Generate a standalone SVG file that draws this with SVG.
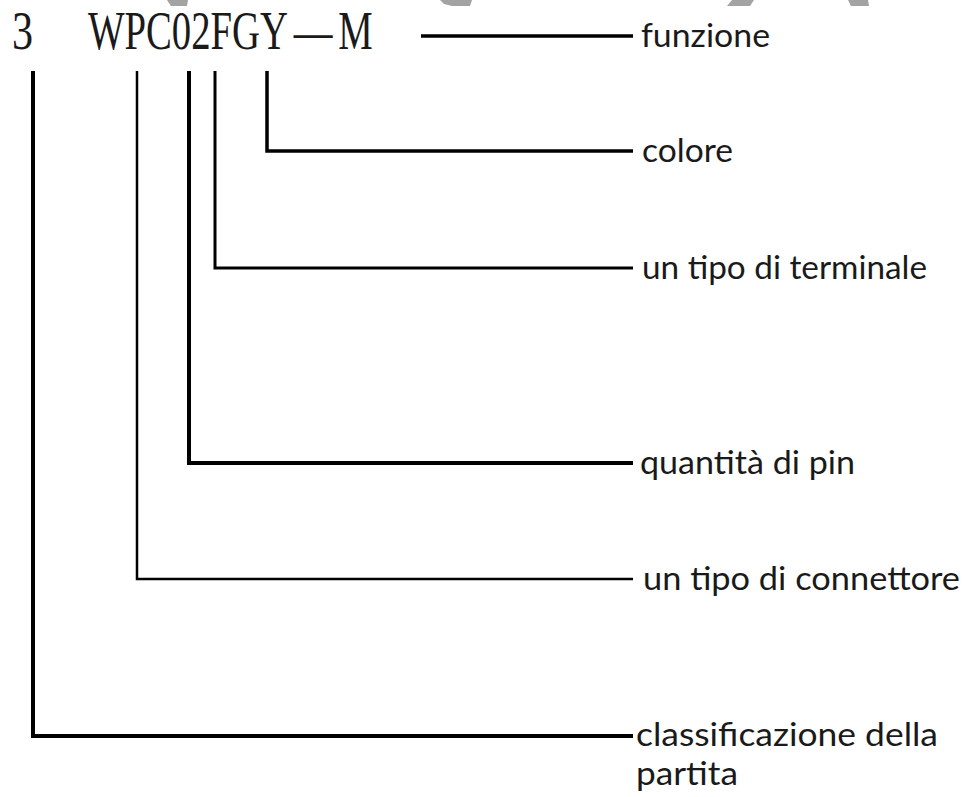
<svg xmlns="http://www.w3.org/2000/svg" width="962" height="797" viewBox="0 0 962 797">
  <style>
    .code { font-family: "Liberation Serif", "DejaVu Serif", serif; font-size: 54px; fill: #1a1a1a; }
    .lbl { font-family: Lato, "Open Sans", "Liberation Sans", sans-serif; font-size: 32px; fill: #1a1a1a; }
    .wire { fill: none; stroke: #000; stroke-linejoin: miter; stroke-linecap: butt; }
    .wm { fill: #a3a3a3; }
  </style>
  <rect width="962" height="797" fill="#ffffff"/>
  <g id="watermark">
    <polygon class="wm" points="167,0 188,0 187,6 171,6"/>
    <polygon class="wm" points="440,0 472,0 470,6 452,6 444,4"/>
    <polygon class="wm" points="732,0 754,0 750,6 727,6"/>
    <polygon class="wm" points="848,0 868,0 869,6 851,6"/>
  </g>
  <g id="code">
    <text class="code" transform="translate(12,49) scale(0.78,1)">3</text>
    <text class="code" transform="translate(88,49) scale(0.717,1)">WPC02FGY<tspan dx="8">—</tspan><tspan dx="8">M</tspan></text>
  </g>
  <g id="connectors">
    <path class="wire" d="M421,36 H633" stroke-width="3.5"/>
    <path class="wire" d="M267,71 V151 H633" stroke-width="3.5"/>
    <path class="wire" d="M215,71 V268 H633" stroke-width="3"/>
    <path class="wire" d="M189,71 V463 H633" stroke-width="4"/>
    <path class="wire" d="M137,71 V579 H633" stroke-width="2.5"/>
    <path class="wire" d="M33,71 V736 H633" stroke-width="4"/>
  </g>
  <g id="funzione"><text class="lbl" x="641" y="47" textLength="129" lengthAdjust="spacingAndGlyphs">funzione</text></g>
  <g id="colore"><text class="lbl" x="642" y="162" textLength="91" lengthAdjust="spacingAndGlyphs">colore</text></g>
  <g id="terminale"><text class="lbl" x="642" y="279" textLength="285" lengthAdjust="spacingAndGlyphs">un tipo di terminale</text></g>
  <g id="pin"><text class="lbl" x="640" y="474" textLength="215" lengthAdjust="spacingAndGlyphs">quantità di pin</text></g>
  <g id="connettore"><text class="lbl" x="643" y="590" textLength="317" lengthAdjust="spacingAndGlyphs">un tipo di connettore</text></g>
  <g id="classificazione">
    <text class="lbl" x="636" y="746" textLength="302" lengthAdjust="spacingAndGlyphs">classificazione della</text>
    <text class="lbl" x="636" y="785" textLength="102" lengthAdjust="spacingAndGlyphs">partita</text>
  </g>
</svg>
